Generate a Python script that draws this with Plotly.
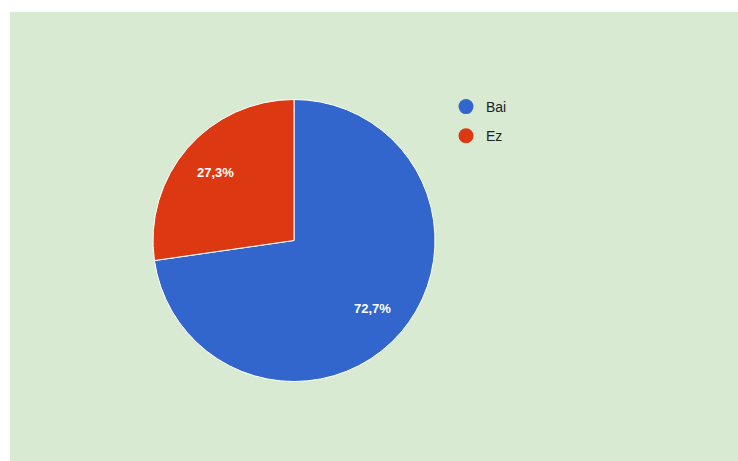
import math
import plotly.graph_objects as go

labels = ["Bai", "Ez"]
values = [8, 3]
colors = ["#3366cc", "#dc3912"]

W, H = 738, 461
ML, MT = 10, 12
PW, PH = W - ML, H - MT
cx, cy, r = 294, 240.5, 141

fig = go.Figure()
fig.add_trace(go.Pie(
    labels=labels, values=values, sort=False, direction="clockwise", rotation=0,
    marker=dict(colors=colors, line=dict(color="white", width=1)),
    textinfo="none", showlegend=False, hoverinfo="label+percent",
    domain=dict(x=[(cx - r - ML) / PW, (cx + r - ML) / PW],
                y=[(H - cy - r) / PH, (H - cy + r) / PH]),
))

# slice labels placed at the slice mid-angle, derived from the data
total = sum(values)
cum = 0
annotations = []
for v in values:
    frac = v / total
    mid = (cum + frac / 2) * 2 * math.pi
    cum += frac
    px = cx + 0.74 * r * math.sin(mid)
    py = cy - 0.74 * r * math.cos(mid)
    txt = f"{frac * 100:.1f}%".replace(".", ",")
    annotations.append(dict(
        x=(px - ML) / PW, y=(H - py) / PH, xref="paper", yref="paper",
        xanchor="center", yanchor="middle",
        text=f"<b>{txt}</b>", showarrow=False,
        font=dict(color="white", size=13, family="Liberation Sans"),
    ))

for lab, col in zip(labels, colors):
    fig.add_trace(go.Scatter(
        x=[None], y=[None], mode="markers", name=lab, legendgroup=lab,
        marker=dict(color=col, size=15, symbol="circle"), showlegend=True,
    ))

fig.update_layout(
    width=W, height=H, margin=dict(l=ML, r=0, t=MT, b=0),
    paper_bgcolor="white", plot_bgcolor="#d9ead3",
    separators=",.",
    font=dict(family="Liberation Sans", size=14, color="#222222"),
    xaxis=dict(visible=False, range=[0, 1]), yaxis=dict(visible=False, range=[0, 1]),
    shapes=[dict(type="rect", xref="paper", yref="paper", x0=0, x1=1, y0=0, y1=1,
                 fillcolor="#d9ead3", line=dict(width=0), layer="below")],
    annotations=annotations,
    legend=dict(x=(446 - ML) / PW, y=(H - 91) / PH, xanchor="left", yanchor="top",
                bgcolor="rgba(0,0,0,0)", traceorder="grouped", tracegroupgap=8,
                font=dict(family="Liberation Sans", size=14, color="#222222")),
)
fig.write_html("out.html")
